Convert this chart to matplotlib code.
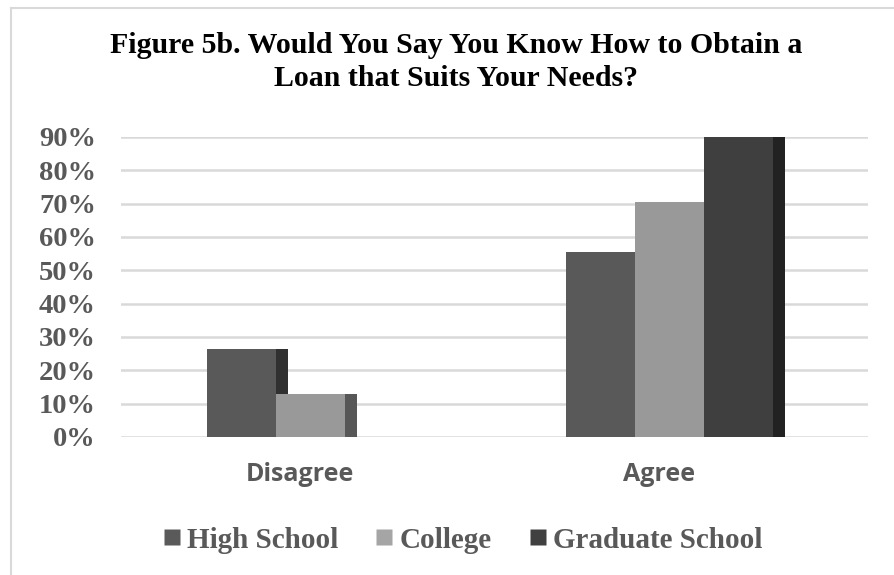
import matplotlib.pyplot as plt
from matplotlib.patches import Rectangle
from matplotlib.lines import Line2D

# Data (percent)
categories = ['Disagree', 'Agree']
high_school = [26.3, 55.5]
college = [12.8, 70.4]
graduate = [0.0, 90.0]
series_names = ['High School', 'College', 'Graduate School']
y_ticks = list(range(0, 91, 10))

front_colors = ['#595959', '#999999', '#3f3f3f']
side_colors = ['#303030', '#575757', '#222222']
legend_colors = ['#5a5a5a', '#a5a5a5', '#404040']
text_grey = '#595959'

fig = plt.figure(figsize=(8.94, 5.75), dpi=100)
ax = fig.add_axes([121 / 894, 138 / 575, 747 / 894, 300 / 575])

bar_w = 0.192
side_w = 0.0334
group_start = -0.27

series = [high_school, college, graduate]
for c in range(len(categories)):
    for s, values in enumerate(series):
        x0 = c + group_start + s * bar_w
        h = values[c]
        # right side face first, so next bar's front covers it
        ax.add_patch(Rectangle((x0 + bar_w, 0), side_w, h, facecolor=side_colors[s],
                               edgecolor='none', zorder=3, clip_on=False))
        ax.bar(x0, h, width=bar_w, align='edge', color=front_colors[s], zorder=3, clip_on=False)

ax.set_xlim(-0.51, 1.57)
ax.set_ylim(0, 90)
ax.set_yticks(y_ticks)
ax.set_yticklabels([f'{t}%' for t in y_ticks], fontfamily='Liberation Serif',
                   fontweight='bold', fontsize=20.5, color=text_grey)
ax.set_xticks([c - 0.012 for c in range(len(categories))])
ax.set_xticklabels(categories, fontfamily='Open Sans', fontweight='bold',
                   fontsize=18, color=text_grey)
ax.tick_params(axis='y', length=0, pad=18)
ax.tick_params(axis='x', length=0, pad=18)
ax.grid(axis='y', color='#d9d9d9', linewidth=1.8, zorder=0)
for sp in ax.spines.values():
    sp.set_visible(False)

fig.text(456 / 894, 1 - 32 / 575,
         'Figure 5b. Would You Say You Know How to Obtain a\nLoan that Suits Your Needs?',
         ha='center', va='top', fontfamily='Liberation Serif', fontweight='bold',
         fontsize=21.5, linespacing=1.3, color='black')

handles = [Line2D([0], [0], marker='s', linestyle='none', markersize=11,
                  markerfacecolor=legend_colors[i], markeredgecolor='none')
           for i in range(3)]
fig.legend(handles, series_names, loc='center', bbox_to_anchor=(463 / 894, 1 - 540 / 575),
           ncol=3, frameon=False, handletextpad=0.25, columnspacing=1.3, handlelength=0.55,
           prop={'family': 'Liberation Serif', 'weight': 'bold', 'size': 21}, labelcolor=text_grey)

# outer chart border (top and left edges visible)
fig.add_artist(Line2D([11 / 894, 11 / 894], [0, 1 - 8 / 575], transform=fig.transFigure,
                      color='#d9d9d9', linewidth=1.5))
fig.add_artist(Line2D([11 / 894, 1], [1 - 8 / 575, 1 - 8 / 575], transform=fig.transFigure,
                      color='#d9d9d9', linewidth=1.5))

fig.savefig('out.png', dpi=100)
